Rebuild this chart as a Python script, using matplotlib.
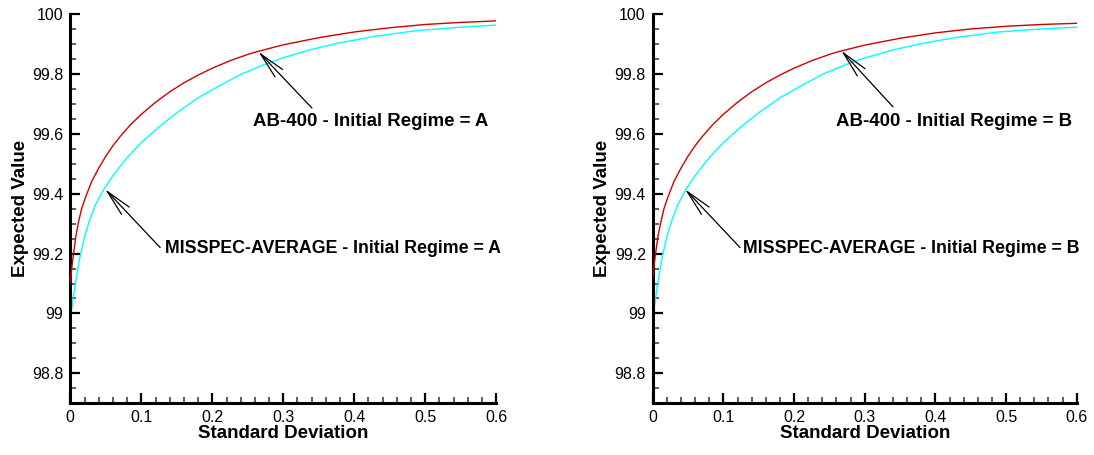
import matplotlib
matplotlib.use("Agg")
import matplotlib.pyplot as plt
from matplotlib.ticker import MultipleLocator, FuncFormatter, FixedLocator

plt.rcParams['font.family'] = ['Liberation Sans', 'DejaVu Sans']

# ---- data ----
sd_red = [0, 0.002, 0.004, 0.008, 0.012, 0.016, 0.021, 0.03, 0.04, 0.05, 0.06, 0.07, 0.084,
          0.1, 0.12, 0.14, 0.16, 0.18, 0.2, 0.225, 0.25, 0.2625, 0.3, 0.35, 0.4, 0.45, 0.5,
          0.55, 0.6]
ev_red_a = [99.10, 99.15, 99.19, 99.26, 99.31, 99.35, 99.385, 99.44, 99.485, 99.525, 99.56,
            99.59, 99.628, 99.665, 99.705, 99.74, 99.77, 99.796, 99.819, 99.844, 99.865, 99.874,
            99.897, 99.921, 99.940, 99.954, 99.965, 99.972, 99.977]
ev_red_b = [99.12, 99.16, 99.20, 99.265, 99.31, 99.35, 99.385, 99.44, 99.485, 99.525, 99.56,
            99.59, 99.628, 99.665, 99.705, 99.74, 99.77, 99.796, 99.819, 99.844, 99.865, 99.874,
            99.896, 99.919, 99.937, 99.950, 99.959, 99.965, 99.969]

sd_cyan = [0, 0.001, 0.002, 0.004, 0.0066, 0.01, 0.0137, 0.02, 0.027, 0.035, 0.046, 0.06,
           0.08, 0.1, 0.126, 0.15, 0.18, 0.21, 0.24, 0.272, 0.3, 0.34, 0.38, 0.43, 0.49,
           0.55, 0.6]
ev_cyan_a = [98.97, 98.995, 99.015, 99.05, 99.09, 99.14, 99.19, 99.255, 99.31, 99.36, 99.41,
             99.46, 99.52, 99.57, 99.625, 99.67, 99.72, 99.76, 99.798, 99.83, 99.854, 99.882,
             99.904, 99.926, 99.945, 99.956, 99.963]
ev_cyan_b = [98.97, 98.995, 99.015, 99.05, 99.09, 99.14, 99.19, 99.255, 99.31, 99.36, 99.41,
             99.46, 99.52, 99.57, 99.625, 99.67, 99.72, 99.76, 99.798, 99.83, 99.853, 99.880,
             99.901, 99.922, 99.940, 99.950, 99.956]

x_ticks = [0, 0.1, 0.2, 0.3, 0.4, 0.5, 0.6]
y_ticks = [98.8, 99.0, 99.2, 99.4, 99.6, 99.8, 100.0]

labels_a = ["AB-400 - Initial Regime = A", "MISSPEC-AVERAGE - Initial Regime = A"]
labels_b = ["AB-400 - Initial Regime = B", "MISSPEC-AVERAGE - Initial Regime = B"]

RED = '#d00000'
CYAN = '#00ffff'

fig = plt.figure(figsize=(10.94, 4.55), dpi=100)
ax1 = fig.add_axes([70.3 / 1094, (455 - 403.3) / 455, 426 / 1094, 389.3 / 455])
ax2 = fig.add_axes([652.7 / 1094, (455 - 403.3) / 455, 424 / 1094, 389.3 / 455])


def style(ax):
    ax.set_xlim(0, 0.6)
    ax.set_ylim(98.7, 100.0)
    for s in ['top', 'right']:
        ax.spines[s].set_visible(False)
    for s in ['left', 'bottom']:
        ax.spines[s].set_linewidth(2.2)
    ax.xaxis.set_major_locator(FixedLocator(x_ticks))
    ax.yaxis.set_major_locator(FixedLocator(y_ticks))
    ax.xaxis.set_minor_locator(MultipleLocator(0.02))
    ax.yaxis.set_minor_locator(MultipleLocator(0.05))
    ax.xaxis.set_major_formatter(FuncFormatter(lambda v, p: '%g' % round(v, 3)))
    ax.yaxis.set_major_formatter(FuncFormatter(lambda v, p: '%g' % round(v, 3)))
    ax.tick_params(which='major', direction='in', length=7.5, width=1.6, labelsize=11.5, pad=5)
    ax.tick_params(which='minor', direction='in', length=4.5, width=1.1, color='#333333')
    ax.set_xlabel('Standard Deviation', fontsize=13.5, fontweight='bold', labelpad=0)
    ax.set_ylabel('Expected Value', fontsize=13.5, fontweight='bold', labelpad=2.5)
    ax.patch.set_visible(False)


def arrow(ax, tip, tail):
    ax.annotate('', xy=tip, xytext=tail,
                arrowprops=dict(arrowstyle='->,head_length=1.9,head_width=0.38',
                                mutation_scale=10, lw=0.9, color='black',
                                shrinkA=0, shrinkB=0))


for ax, er, ec, labels, pts in [
    (ax1, ev_red_a, ev_cyan_a, labels_a,
     [((0.265, 99.874), (0.3403, 99.686), (0.257, 99.64)),
      ((0.049, 99.415), (0.1266, 99.22), (0.1334, 99.217))]),
    (ax2, ev_red_b, ev_cyan_b, labels_b,
     [((0.2667, 99.878), (0.340, 99.69), (0.2596, 99.64)),
      ((0.0457, 99.415), (0.1236, 99.22), (0.128, 99.217))]),
]:
    style(ax)
    ax.plot(sd_cyan, ec, color=CYAN, lw=1.0, zorder=2)
    ax.plot(sd_red, er, color=RED, lw=1.0, zorder=3)
    for i, (lab, (tip, tail, tpos)) in enumerate(zip(labels, pts)):
        arrow(ax, tip, tail)
        ax.text(tpos[0], tpos[1], lab, fontsize=13.4 if i == 0 else 12.8,
                fontweight='bold', ha='left', va='center')

fig.savefig('out.png', dpi=100)
